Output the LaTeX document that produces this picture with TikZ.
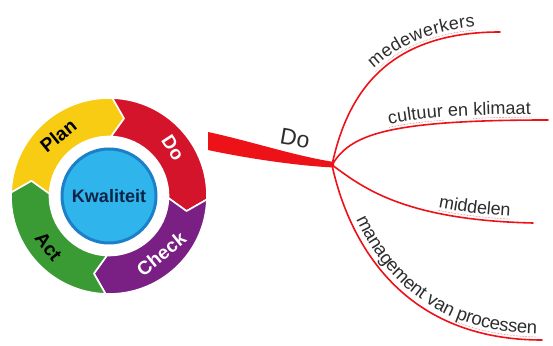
\documentclass[tikz,border=0pt]{standalone}
\usepackage{fontspec}
\setmainfont{Liberation Sans}
\usetikzlibrary{decorations.text,decorations.markings}

\definecolor{plancol}{RGB}{247,204,18}
\definecolor{docol}{RGB}{212,20,42}
\definecolor{checkcol}{RGB}{122,32,132}
\definecolor{actcol}{RGB}{58,155,52}
\definecolor{kwlight}{RGB}{48,180,236}
\definecolor{kwdark}{RGB}{28,128,200}
\definecolor{kwtext}{RGB}{12,36,70}
\definecolor{branchred}{RGB}{236,18,24}
\definecolor{txtgray}{RGB}{45,45,45}
\definecolor{dotred}{RGB}{225,80,80}

\newcommand\mmfont{\fontsize{18}{20}\selectfont}

\tikzset{
  segm/.style={draw=white, line width=1.6pt, line join=round},
  seglbl/.style={font=\fontsize{19}{20}\selectfont\bfseries, inner sep=0pt},
  branch/.style={draw=branchred, line width=1.6pt},
  lbl/.style 2 args={postaction={decorate, decoration={text along path, text={|\mmfont|#1}, text align={left indent=#2}, raise=6pt, text color=txtgray}}},
  uline/.style 2 args={postaction={decorate, decoration={markings, mark=between positions #1 and #2 step 1.5pt with {\fill[dotred] (0,3pt) circle (0.35pt);}}}}
}

\begin{document}
\begin{tikzpicture}[x=1pt, y=1pt, line join=round, line cap=round]
\useasboundingbox (0,0) rectangle (553,345);
\coordinate (ctr) at (109,149);
% PDCA ring
\begin{scope}[shift={(ctr)}]
  \foreach \col/\a in {plancol/178, docol/88, checkcol/-2, actcol/-92}
    \fill[\col, segm] (\a:98) arc[start angle=\a, delta angle=-90, radius=98] -- ({\a-99}:79) -- ({\a-90}:59.5) arc[start angle={\a-90}, delta angle=90, radius=59.5] -- ({\a-9}:79) -- cycle;
  \node[seglbl, rotate=39] (plan) at (130:79) {Plan};
  \node[seglbl, rotate=-57, text=white] (do) at (37:80) {Do};
  \node[seglbl, rotate=39, text=white] (check) at (-48:78) {Check};
  \node[seglbl, rotate=-52] (act) at (-140:79) {Act};
\end{scope}
\node[circle, minimum size=94pt, inner sep=0pt, fill=kwlight, draw=kwdark, line width=3pt, font=\fontsize{18}{19}\selectfont\bfseries, text=kwtext] (kwal) at (ctr) {Kwaliteit};

% mind map
\coordinate (hub) at (332,180);
\coordinate (dotop) at (208,213);
\coordinate (dobot) at (208,195);
\coordinate (hubtop) at (334,183);
\coordinate (hubbot) at (334,177.5);
\fill[branchred] (dotop) .. controls (250,204) and (295,189) .. (hubtop) -- (hubbot) .. controls (300,179) and (250,186) .. (dobot) -- cycle;
\node[font=\fontsize{23}{24}\selectfont, text=txtgray, rotate=-10] (dolbl) at (295,207) {Do};

\coordinate (medew) at (500,313);
\coordinate (cultuur) at (548,225);
\coordinate (middel) at (533,122);
\coordinate (manag) at (542,5);
\draw[branch, lbl={medewerkers}{104pt}, uline={104pt}{212pt}] (hub) .. controls +(16,75) and +(-110,0) .. (medew);
\draw[branch, lbl={cultuur en klimaat}{70pt}, uline={70pt}{124pt}, uline={154pt}{211pt}] (hub) .. controls +(18,30) and +(-163,0) .. (cultuur);
\draw[branch, lbl={middelen}{117pt}, uline={117pt}{190pt}] (hub) .. controls +(28,-20) and +(-133,3) .. (middel);
\draw[branch, postaction={decorate, decoration={text along path, text={|\fontsize{18.5}{20}\selectfont|management van processen}, text align={left indent=60pt}, raise=6pt, text color=txtgray}}, uline={208pt}{293pt}] (hub) .. controls +(13,-60) and +(-152,0) .. (manag);
\end{tikzpicture}
\end{document}
